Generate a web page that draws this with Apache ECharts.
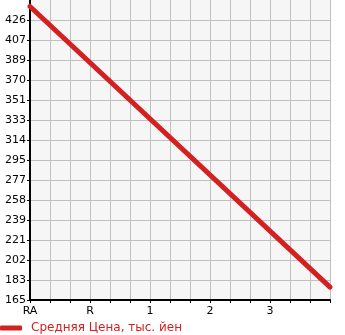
<!DOCTYPE html>
<html>
<head>
<meta charset="utf-8">
<script src="https://cdn.jsdelivr.net/npm/echarts@6/dist/echarts.min.js"></script>
<style>html,body{margin:0;padding:0;background:#fff}#c{width:345px;height:335px}</style>
</head>
<body>
<div id="c"></div>
<script>
// Data
var seriesName = 'Средняя Цена, тыс. йен';
var xPositions = [0, 15];
var priceValues = [438.6, 177];
var xTickLabels = ['RA','','','R','','','1','','','2','','','3','','',''];
var yTickLabels = ['165','183','202','221','239','258','277','295','314','333','351','370','389','407','426',''];

var yMin = 165;
var yStep = (426 - 165) / 14;
var yMax = yMin + 15 * yStep;
var yTickValues = [];
for (var k = 0; k < 15; k++) { yTickValues.push(yMin + k * yStep); }

var chart = echarts.init(document.getElementById('c'), null, {renderer: 'canvas'});
chart.setOption({
  animation: false,
  textStyle: {fontFamily: 'DejaVu Sans'},
  grid: {left: 30, top: 0, width: 300, height: 300, show: true, backgroundColor: '#f6f6f6', borderWidth: 0},
  legend: {
    left: 0, top: 322, padding: 0, itemWidth: 22, itemHeight: 5, icon: 'roundRect',
    itemStyle: {color: '#d42020'},
    textStyle: {color: '#d42020', fontSize: 12, fontFamily: 'DejaVu Sans', padding: [0, 0, 0, 4]},
    data: [seriesName]
  },
  xAxis: {
    type: 'value', min: 0, max: 15, interval: 1,
    axisLine: {show: true, onZero: false, lineStyle: {color: '#000', width: 2}},
    axisTick: {show: true, length: 3, lineStyle: {color: '#000', width: 1}},
    splitLine: {show: true, lineStyle: {color: '#c0c0c0', width: 1}},
    axisLabel: {
      color: '#000', fontSize: 11, margin: 6, fontFamily: 'DejaVu Sans',
      showMinLabel: true, showMaxLabel: true,
      formatter: function (v) { var i = Math.round(v); return xTickLabels[i] || ''; }
    }
  },
  yAxis: {
    type: 'value', min: yMin, max: yMax, interval: yStep,
    axisLine: {show: true, lineStyle: {color: '#000', width: 2}},
    axisTick: {show: true, length: 3, customValues: yTickValues, lineStyle: {color: '#000', width: 1}},
    splitLine: {show: true, lineStyle: {color: '#c0c0c0', width: 1}},
    axisLabel: {
      color: '#000', fontSize: 11, margin: 4, fontFamily: 'DejaVu Sans',
      verticalAlign: 'middle', padding: [0, 0, 7, 0],
      customValues: yTickValues,
      formatter: function (v) { var i = Math.round((v - yMin) / yStep); return yTickLabels[i] || ''; }
    }
  },
  series: [{
    name: seriesName, type: 'line',
    data: xPositions.map(function (x, i) { return [x, priceValues[i]]; }),
    showSymbol: false, symbol: 'none',
    lineStyle: {color: '#d42020', width: 5, cap: 'round'},
    itemStyle: {color: '#d42020'}
  }]
});
</script>
</body>
</html>
